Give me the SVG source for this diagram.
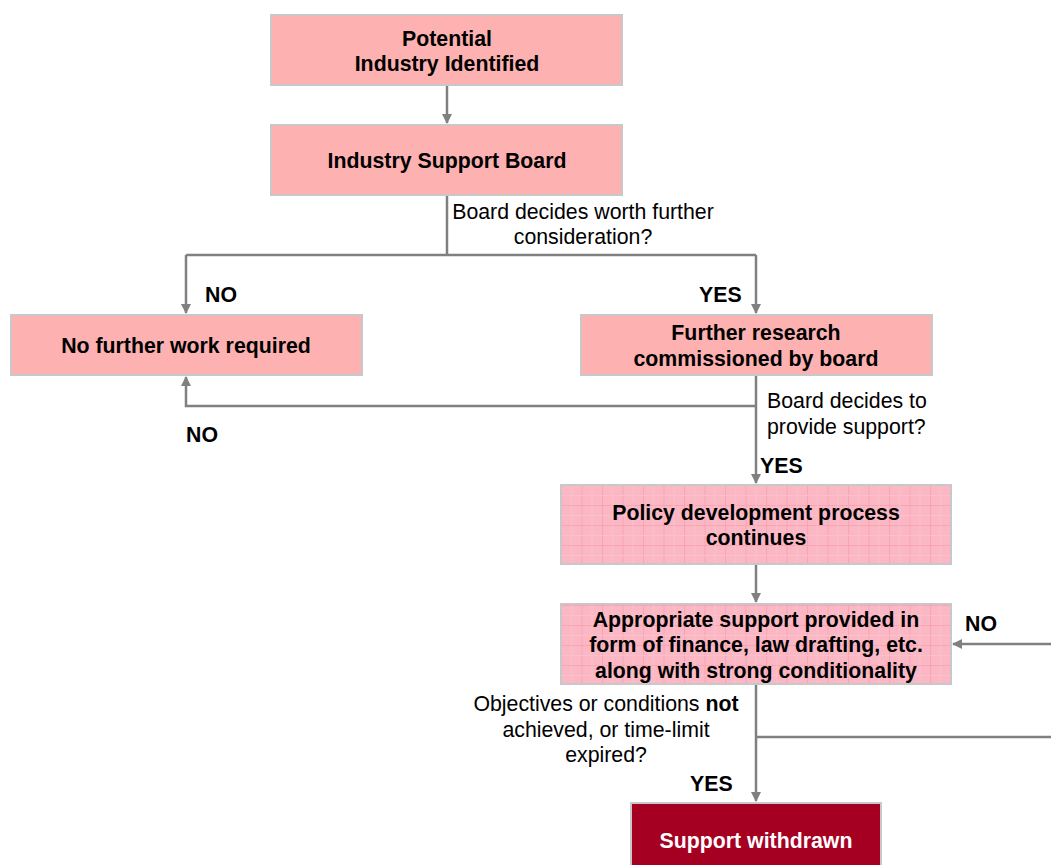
<svg xmlns="http://www.w3.org/2000/svg" width="1051" height="865" viewBox="0 0 1051 865">
<style>
.box{fill:#fdb1b1;stroke:#c8c8c8;stroke-width:2}
.pat{fill:url(#grid);stroke:#c8c8c8;stroke-width:2}
.dark{fill:#a50021;stroke:#c8c8c8;stroke-width:2}
.t{font-family:"Liberation Sans",Arial,sans-serif;font-size:21.3px;font-weight:bold;fill:#000;text-anchor:middle}
.w{fill:#fff}
.lbl{font-family:"Liberation Sans",Arial,sans-serif;font-size:21.3px;fill:#000}
.b{font-weight:bold}
.c{stroke:#808080;stroke-width:2.5;fill:none}
</style>
<defs>
<marker id="ah" markerWidth="10" markerHeight="10" refX="9" refY="5" orient="auto" markerUnits="userSpaceOnUse" viewBox="0 0 10 10">
<path d="M0,0 L10,5 L0,10 z" fill="#808080"/>
</marker>
<pattern id="grid" width="20.5" height="20" patternUnits="userSpaceOnUse" x="561" y="485">
<rect width="20.5" height="20" fill="#fbb8c4"/>
<path d="M0,0.5 H20.5 M0.5,0 V20" stroke="#f8a4b3" stroke-width="1"/>
<path d="M0,10.5 H20.5 M10.5,0 V20" stroke="#fcc0cb" stroke-width="1"/>
</pattern>
</defs>
<g id="connectors">
<path class="c" d="M447,85 V123" marker-end="url(#ah)"/>
<path class="c" d="M447,195 V255 M186,255 H756"/>
<path class="c" d="M186,255 V313" marker-end="url(#ah)"/>
<path class="c" d="M756,255 V313" marker-end="url(#ah)"/>
<path class="c" d="M756,375 V483" marker-end="url(#ah)"/>
<path class="c" d="M756,406 H186 V377" marker-end="url(#ah)"/>
<path class="c" d="M756,564 V602" marker-end="url(#ah)"/>
<path class="c" d="M756,684 V801" marker-end="url(#ah)"/>
<path class="c" d="M756,737 H1051"/>
<path class="c" d="M1051,644 H953" marker-end="url(#ah)"/>
</g>
<g id="n1"><rect class="box" x="271" y="15" width="351" height="70"/><text class="t" x="447" y="46">Potential</text><text class="t" x="447" y="71">Industry Identified</text></g>
<g id="n2"><rect class="box" x="271" y="125" width="351" height="70"/><text class="t" x="447" y="168">Industry Support Board</text></g>
<g id="n3"><rect class="box" x="11" y="315" width="351" height="60"/><text class="t" x="186" y="353">No further work required</text></g>
<g id="n4"><rect class="box" x="581" y="315" width="351" height="60"/><text class="t" x="756" y="340">Further research</text><text class="t" x="756" y="366">commissioned by board</text></g>
<g id="n5"><rect class="pat" x="561" y="485" width="390" height="79"/><text class="t" x="756" y="520">Policy development process</text><text class="t" x="756" y="545">continues</text></g>
<g id="n6"><rect class="pat" x="561" y="604" width="390" height="80"/><text class="t" x="756" y="627">Appropriate support provided in</text><text class="t" x="756" y="652">form of finance, law drafting, etc.</text><text class="t" x="756" y="678">along with strong conditionality</text></g>
<g id="n7"><rect class="dark" x="631" y="803" width="250" height="70"/><text class="t w" x="756" y="848">Support withdrawn</text></g>
<g id="labels">
<text class="lbl" x="583" y="219" text-anchor="middle">Board decides worth further</text>
<text class="lbl" x="583" y="244" text-anchor="middle">consideration?</text>
<text class="lbl b" x="205" y="302">NO</text>
<text class="lbl b" x="699" y="302">YES</text>
<text class="lbl b" x="186" y="442">NO</text>
<text class="lbl" x="767" y="408">Board decides to</text>
<text class="lbl" x="767" y="434">provide support?</text>
<text class="lbl b" x="760" y="473">YES</text>
<text class="lbl b" x="965" y="631">NO</text>
<text class="lbl" x="606" y="711" text-anchor="middle">Objectives or conditions <tspan font-weight="bold">not</tspan></text>
<text class="lbl" x="606" y="737" text-anchor="middle">achieved, or time-limit</text>
<text class="lbl" x="606" y="762" text-anchor="middle">expired?</text>
<text class="lbl b" x="690" y="791">YES</text>
</g>
</svg>
